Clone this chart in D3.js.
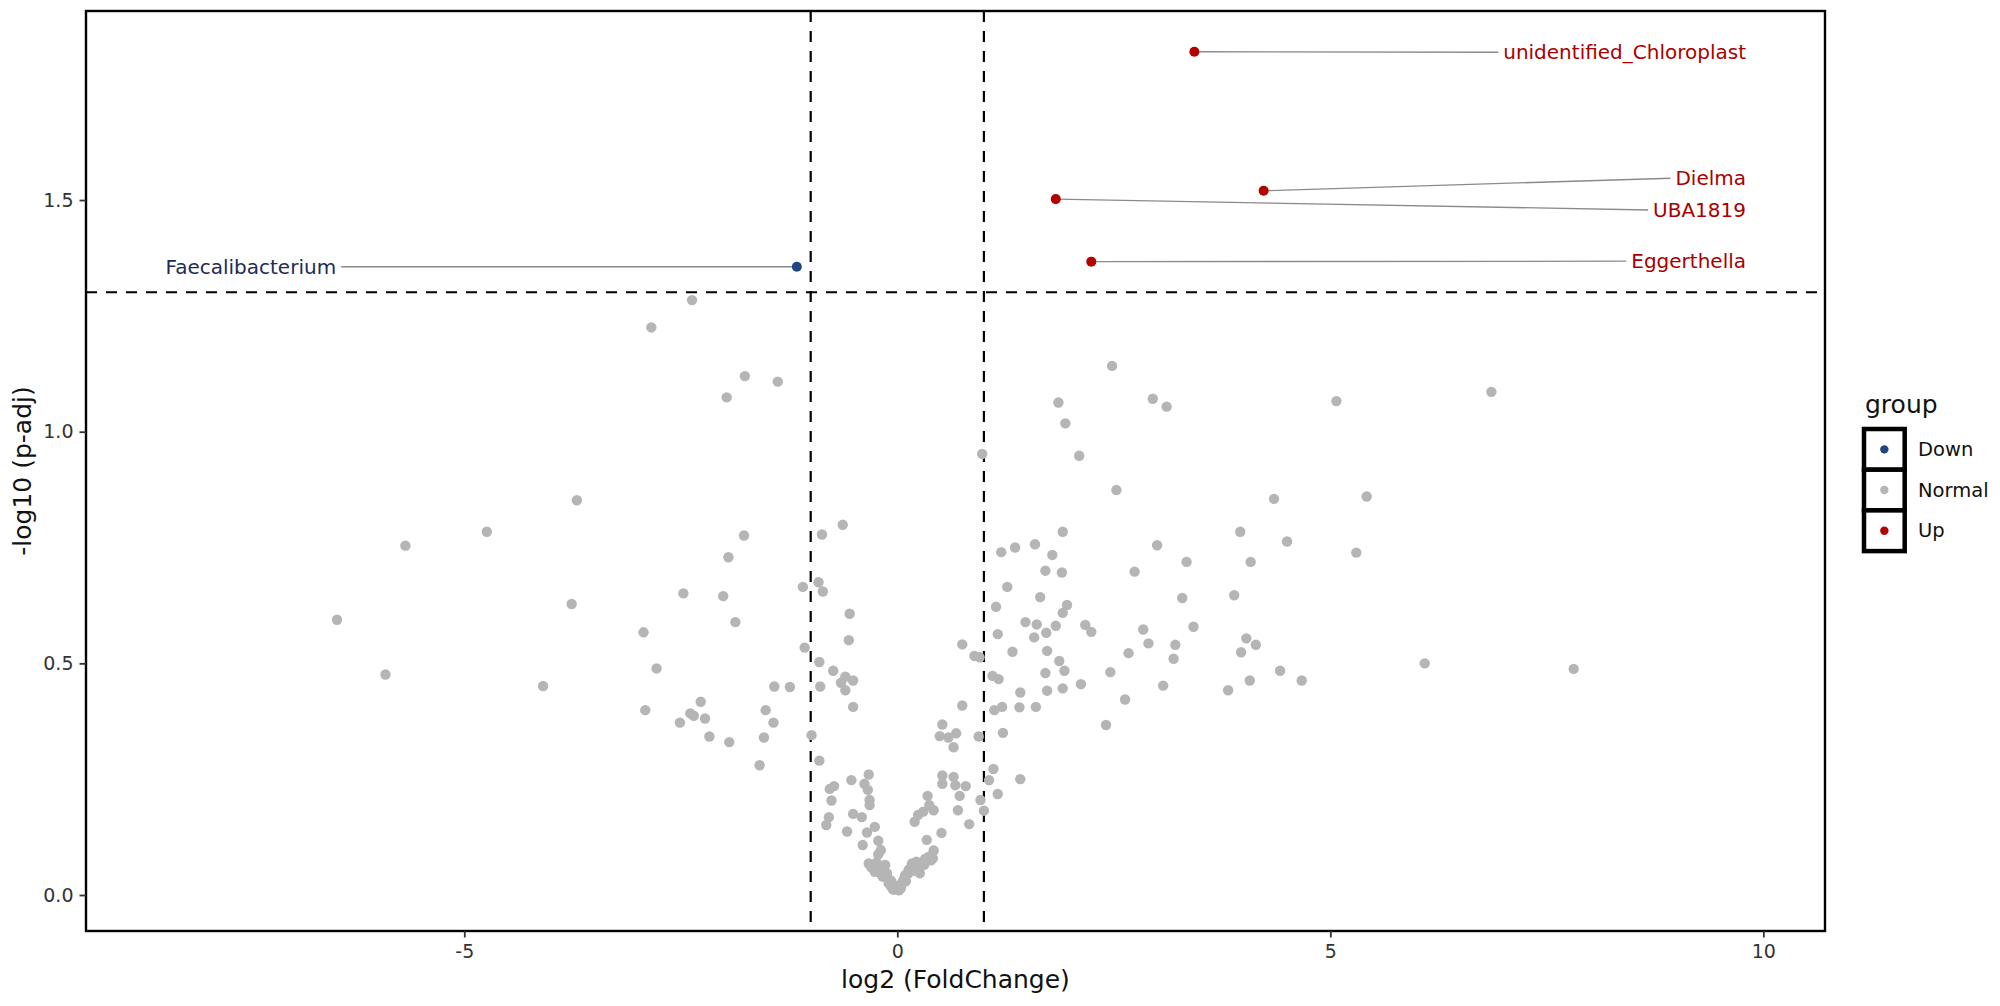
<!DOCTYPE html>
<html>
<head>
<meta charset="utf-8">
<script src="https://cdn.jsdelivr.net/npm/d3@7"></script>
<style>
  body { margin: 0; background: #fff; }
  svg { font-family: "DejaVu Sans", sans-serif; }
</style>
</head>
<body>
<div id="container"></div>
<script>
// volcano plot: log2 fold change vs -log10 adjusted p
const width = 2000, height = 1006;
const panel = { left: 86, top: 11, right: 1825, bottom: 931 };

// thresholds
const fcCut = [-1, 1];
const pCut = 1.301; // -log10(0.05)

const xTicks = [-5, 0, 5, 10];
const yTicks = [0, 0.5, 1.0, 1.5];

const groups = ["Down", "Normal", "Up"];
const groupColors = ["#1f4682", "#b5b5b5", "#b50000"];
const labelColors = ["#1c2c55", "#b5b5b5", "#a80000"];

// labelled (significant) genera
const sigNames = ["Faecalibacterium", "unidentified_Chloroplast", "Dielma", "UBA1819", "Eggerthella"];
const sigFC = [-1.16, 3.43, 4.23, 1.83, 2.24];
const sigP = [1.356, 1.820, 1.520, 1.502, 1.367];
const sigGroup = ["Down", "Up", "Up", "Up", "Up"];
const labelFC = [-6.48, 9.80, 9.80, 9.80, 9.80];
const labelP = [1.356, 1.819, 1.547, 1.4785, 1.368];

// non significant genera [log2FC, -log10 padj]
const normalPoints = [
  [-1.77,0.776],[-1.95,0.729],[-2.01,0.645],[-1.87,0.589],[-2.27,0.417],[-2.35,0.387],[-2.39,0.392],[-2.22,0.381],
  [-2.17,0.342],[-1.94,0.330],[-1.52,0.399],[-1.43,0.372],[-1.54,0.340],[-1.59,0.280],[-1.42,0.450],[-1.24,0.449],
  [-1.09,0.665],[-0.91,0.675],[-0.86,0.655],[-1.07,0.534],[-0.99,0.345],[-0.90,0.290],[-0.87,0.778],[-0.63,0.799],
  [-0.55,0.607],[-0.56,0.550],[-0.90,0.503],[-0.74,0.484],[-0.60,0.471],[-0.51,0.463],[-0.65,0.458],[-0.60,0.442],
  [-0.89,0.450],[-0.51,0.406],[-0.53,0.248],[-0.33,0.260],[-0.38,0.240],[-0.34,0.227],[-0.32,0.205],[-0.32,0.194],
  [-0.73,0.235],[-0.78,0.229],[-0.76,0.204],[-0.79,0.168],[-0.82,0.151],[-0.51,0.175],[-0.41,0.168],[-0.58,0.137],
  [-0.35,0.135],[-0.26,0.147],[-0.40,0.108],[-0.22,0.117],[-0.19,0.097],[-0.22,0.088],[-0.33,0.068],[-0.28,0.058],
  [-0.20,0.063],[-0.14,0.065],[-0.12,0.047],[-0.18,0.043],[-0.08,0.032],[-0.07,0.018],[-0.03,0.012],[0.04,0.014],
  [0.06,0.029],[0.09,0.043],[0.13,0.054],[0.17,0.068],[0.20,0.061],[0.26,0.047],[0.22,0.072],[0.32,0.078],
  [0.41,0.079],[0.42,0.096],[0.34,0.119],[0.51,0.134],[0.20,0.158],[0.24,0.173],[0.30,0.180],[0.35,0.214],
  [0.37,0.194],[0.42,0.183],[0.52,0.258],[0.52,0.240],[0.65,0.255],[0.67,0.237],[0.72,0.214],[0.79,0.235],
  [0.70,0.183],[0.83,0.153],[0.96,0.205],[1.00,0.182],[1.06,0.248],[1.11,0.272],[1.16,0.218],[1.42,0.250],
  [0.52,0.368],[0.49,0.343],[0.59,0.340],[0.68,0.349],[0.65,0.319],[0.94,0.342],[0.75,0.409],[0.75,0.541],
  [0.89,0.516],[0.95,0.513],[1.10,0.473],[1.17,0.466],[1.12,0.399],[1.21,0.406],[1.22,0.350],[1.14,0.622],
  [1.16,0.563],[1.20,0.740],[1.36,0.750],[1.59,0.757],[1.91,0.784],[1.79,0.734],[1.71,0.700],[1.90,0.696],
  [1.27,0.665],[1.65,0.643],[1.96,0.626],[1.91,0.609],[1.48,0.589],[1.61,0.584],[1.72,0.566],[1.58,0.556],
  [1.83,0.581],[2.17,0.583],[2.24,0.568],[1.33,0.525],[1.73,0.527],[1.87,0.505],[1.93,0.484],[1.71,0.479],
  [2.12,0.455],[1.73,0.441],[1.91,0.446],[1.42,0.437],[1.41,0.405],[1.60,0.406],[2.41,0.367],[2.46,0.481],
  [-2.37,1.284],[-2.84,1.225],[-1.76,1.120],[-1.38,1.108],[-1.97,1.074],[0.98,0.952],[-3.70,0.852],
  [2.48,1.142],[1.86,1.063],[2.95,1.071],[3.11,1.054],[5.07,1.066],[6.86,1.086],[1.94,1.018],[2.10,0.948],
  [2.53,0.874],[4.35,0.855],[5.42,0.860],
  [3.96,0.784],[4.50,0.763],[3.00,0.755],[5.30,0.739],[3.34,0.719],[4.08,0.719],[2.74,0.698],[3.29,0.641],
  [3.89,0.647],[2.84,0.573],[3.42,0.579],[2.90,0.543],[3.21,0.540],[4.03,0.554],[4.14,0.540],[3.97,0.524],
  [3.19,0.510],[2.67,0.522],[6.09,0.500],[7.81,0.488],[4.42,0.484],[4.67,0.463],[4.07,0.463],[3.07,0.452],
  [3.82,0.442],[2.63,0.422],
  [-4.74,0.784],[-5.68,0.754],[-3.76,0.628],[-6.47,0.594],[-5.91,0.476],[-4.09,0.451],[-2.93,0.567],[-2.78,0.489],
  [-2.47,0.651],[-2.91,0.399],[-2.51,0.372],
  [-0.30,0.060],[-0.26,0.050],[-0.24,0.070],[-0.21,0.055],[-0.17,0.040],[-0.15,0.052],[-0.11,0.035],[-0.10,0.025],
  [-0.07,0.030],[-0.05,0.012],[-0.02,0.020],[0.02,0.010],[0.05,0.022],[0.08,0.035],[0.10,0.030],[0.12,0.045],
  [0.15,0.058],[0.18,0.052],[0.21,0.066],[0.25,0.060],[0.28,0.070],[0.31,0.065],[0.36,0.082],[0.39,0.075]
];

const svg = d3.select("#container")
  .append("svg")
  .attr("width", width)
  .attr("height", height);

const x = d3.scaleLinear()
  .domain([-9.368, 10.712])
  .range([panel.left, panel.right]);

const y = d3.scaleLinear()
  .domain([-0.0777, 1.908])
  .range([panel.bottom, panel.top]);

const color = d3.scaleOrdinal().domain(groups).range(groupColors);
const textColor = d3.scaleOrdinal().domain(groups).range(labelColors);

// threshold lines
const dash = "11,9";
svg.selectAll(".vline")
  .data(fcCut)
  .join("line")
  .attr("class", "vline")
  .attr("x1", d => x(d)).attr("x2", d => x(d))
  .attr("y1", panel.top).attr("y2", panel.bottom)
  .attr("stroke", "black")
  .attr("stroke-width", 2.2)
  .attr("stroke-dasharray", dash);

svg.append("line")
  .attr("x1", panel.left).attr("x2", panel.right)
  .attr("y1", y(pCut)).attr("y2", y(pCut))
  .attr("stroke", "black")
  .attr("stroke-width", 2.2)
  .attr("stroke-dasharray", dash);

// grey points
svg.append("g")
  .selectAll("circle")
  .data(normalPoints)
  .join("circle")
  .attr("cx", d => x(d[0]))
  .attr("cy", d => y(d[1]))
  .attr("r", 5.2)
  .attr("fill", color("Normal"));

// labels for significant genera
const sig = sigNames.map((name, i) => ({
  name, fc: sigFC[i], p: sigP[i], group: sigGroup[i], lx: labelFC[i], ly: labelP[i]
}));

const labels = svg.append("g")
  .selectAll("text")
  .data(sig)
  .join("text")
  .attr("x", d => x(d.lx))
  .attr("y", d => y(d.ly))
  .attr("text-anchor", "end")
  .attr("dominant-baseline", "central")
  .attr("font-size", 20)
  .attr("fill", d => textColor(d.group))
  .text(d => d.name);

labels.each(function(d) {
  const w = this.getComputedTextLength();
  const endX = d.lx < d.fc ? x(d.lx) + 5 : x(d.lx) - w - 5;
  svg.insert("line", "g")
    .attr("x1", x(d.fc)).attr("y1", y(d.p))
    .attr("x2", endX).attr("y2", y(d.ly))
    .attr("stroke", "#8a8a8a")
    .attr("stroke-width", 1.3);
});

// significant points on top
svg.append("g")
  .selectAll("circle")
  .data(sig)
  .join("circle")
  .attr("cx", d => x(d.fc))
  .attr("cy", d => y(d.p))
  .attr("r", 5)
  .attr("fill", d => color(d.group));

// panel border
svg.append("rect")
  .attr("x", panel.left).attr("y", panel.top)
  .attr("width", panel.right - panel.left)
  .attr("height", panel.bottom - panel.top)
  .attr("fill", "none")
  .attr("stroke", "black")
  .attr("stroke-width", 2.4);

// axes
const xAxis = svg.append("g")
  .attr("transform", `translate(0,${panel.bottom})`)
  .call(d3.axisBottom(x).tickValues(xTicks).tickSize(6.5).tickPadding(7).tickFormat(d => String(d)));

const yAxis = svg.append("g")
  .attr("transform", `translate(${panel.left},0)`)
  .call(d3.axisLeft(y).tickValues(yTicks).tickSize(6.5).tickPadding(6).tickFormat(d3.format(".1f")));

[xAxis, yAxis].forEach(a => {
  a.select(".domain").remove();
  a.selectAll(".tick line").attr("stroke", "#333").attr("stroke-width", 1.8);
  a.selectAll(".tick text")
    .attr("fill", "#333")
    .style("font-size", "19px")
    .style("font-family", "DejaVu Sans");
});

// axis titles
svg.append("text")
  .attr("x", (panel.left + panel.right) / 2)
  .attr("y", 988)
  .attr("text-anchor", "middle")
  .attr("font-size", 25)
  .attr("fill", "#111")
  .text("log2 (FoldChange)");

svg.append("text")
  .attr("transform", `translate(22,${(panel.top + panel.bottom) / 2}) rotate(-90)`)
  .attr("text-anchor", "middle")
  .attr("dominant-baseline", "central")
  .attr("font-size", 25)
  .attr("fill", "#111")
  .text("-log10 (p-adj)");

// legend
const legend = svg.append("g").attr("transform", "translate(1864,429)");
legend.append("text")
  .attr("x", 1)
  .attr("y", -16)
  .attr("font-size", 25)
  .attr("fill", "#111")
  .text("group");

const keySize = 40.7;
const keys = legend.selectAll(".key")
  .data(groups)
  .join("g")
  .attr("class", "key")
  .attr("transform", (d, i) => `translate(0,${i * keySize})`);

keys.append("rect")
  .attr("width", keySize)
  .attr("height", keySize)
  .attr("fill", "white")
  .attr("stroke", "black")
  .attr("stroke-width", 4.5);

keys.append("circle")
  .attr("cx", keySize / 2)
  .attr("cy", keySize / 2)
  .attr("r", 4.2)
  .attr("fill", d => color(d));

keys.append("text")
  .attr("x", 54)
  .attr("y", keySize / 2)
  .attr("dominant-baseline", "central")
  .attr("font-size", 19.5)
  .attr("fill", "#111")
  .text(d => d);
</script>
</body>
</html>
